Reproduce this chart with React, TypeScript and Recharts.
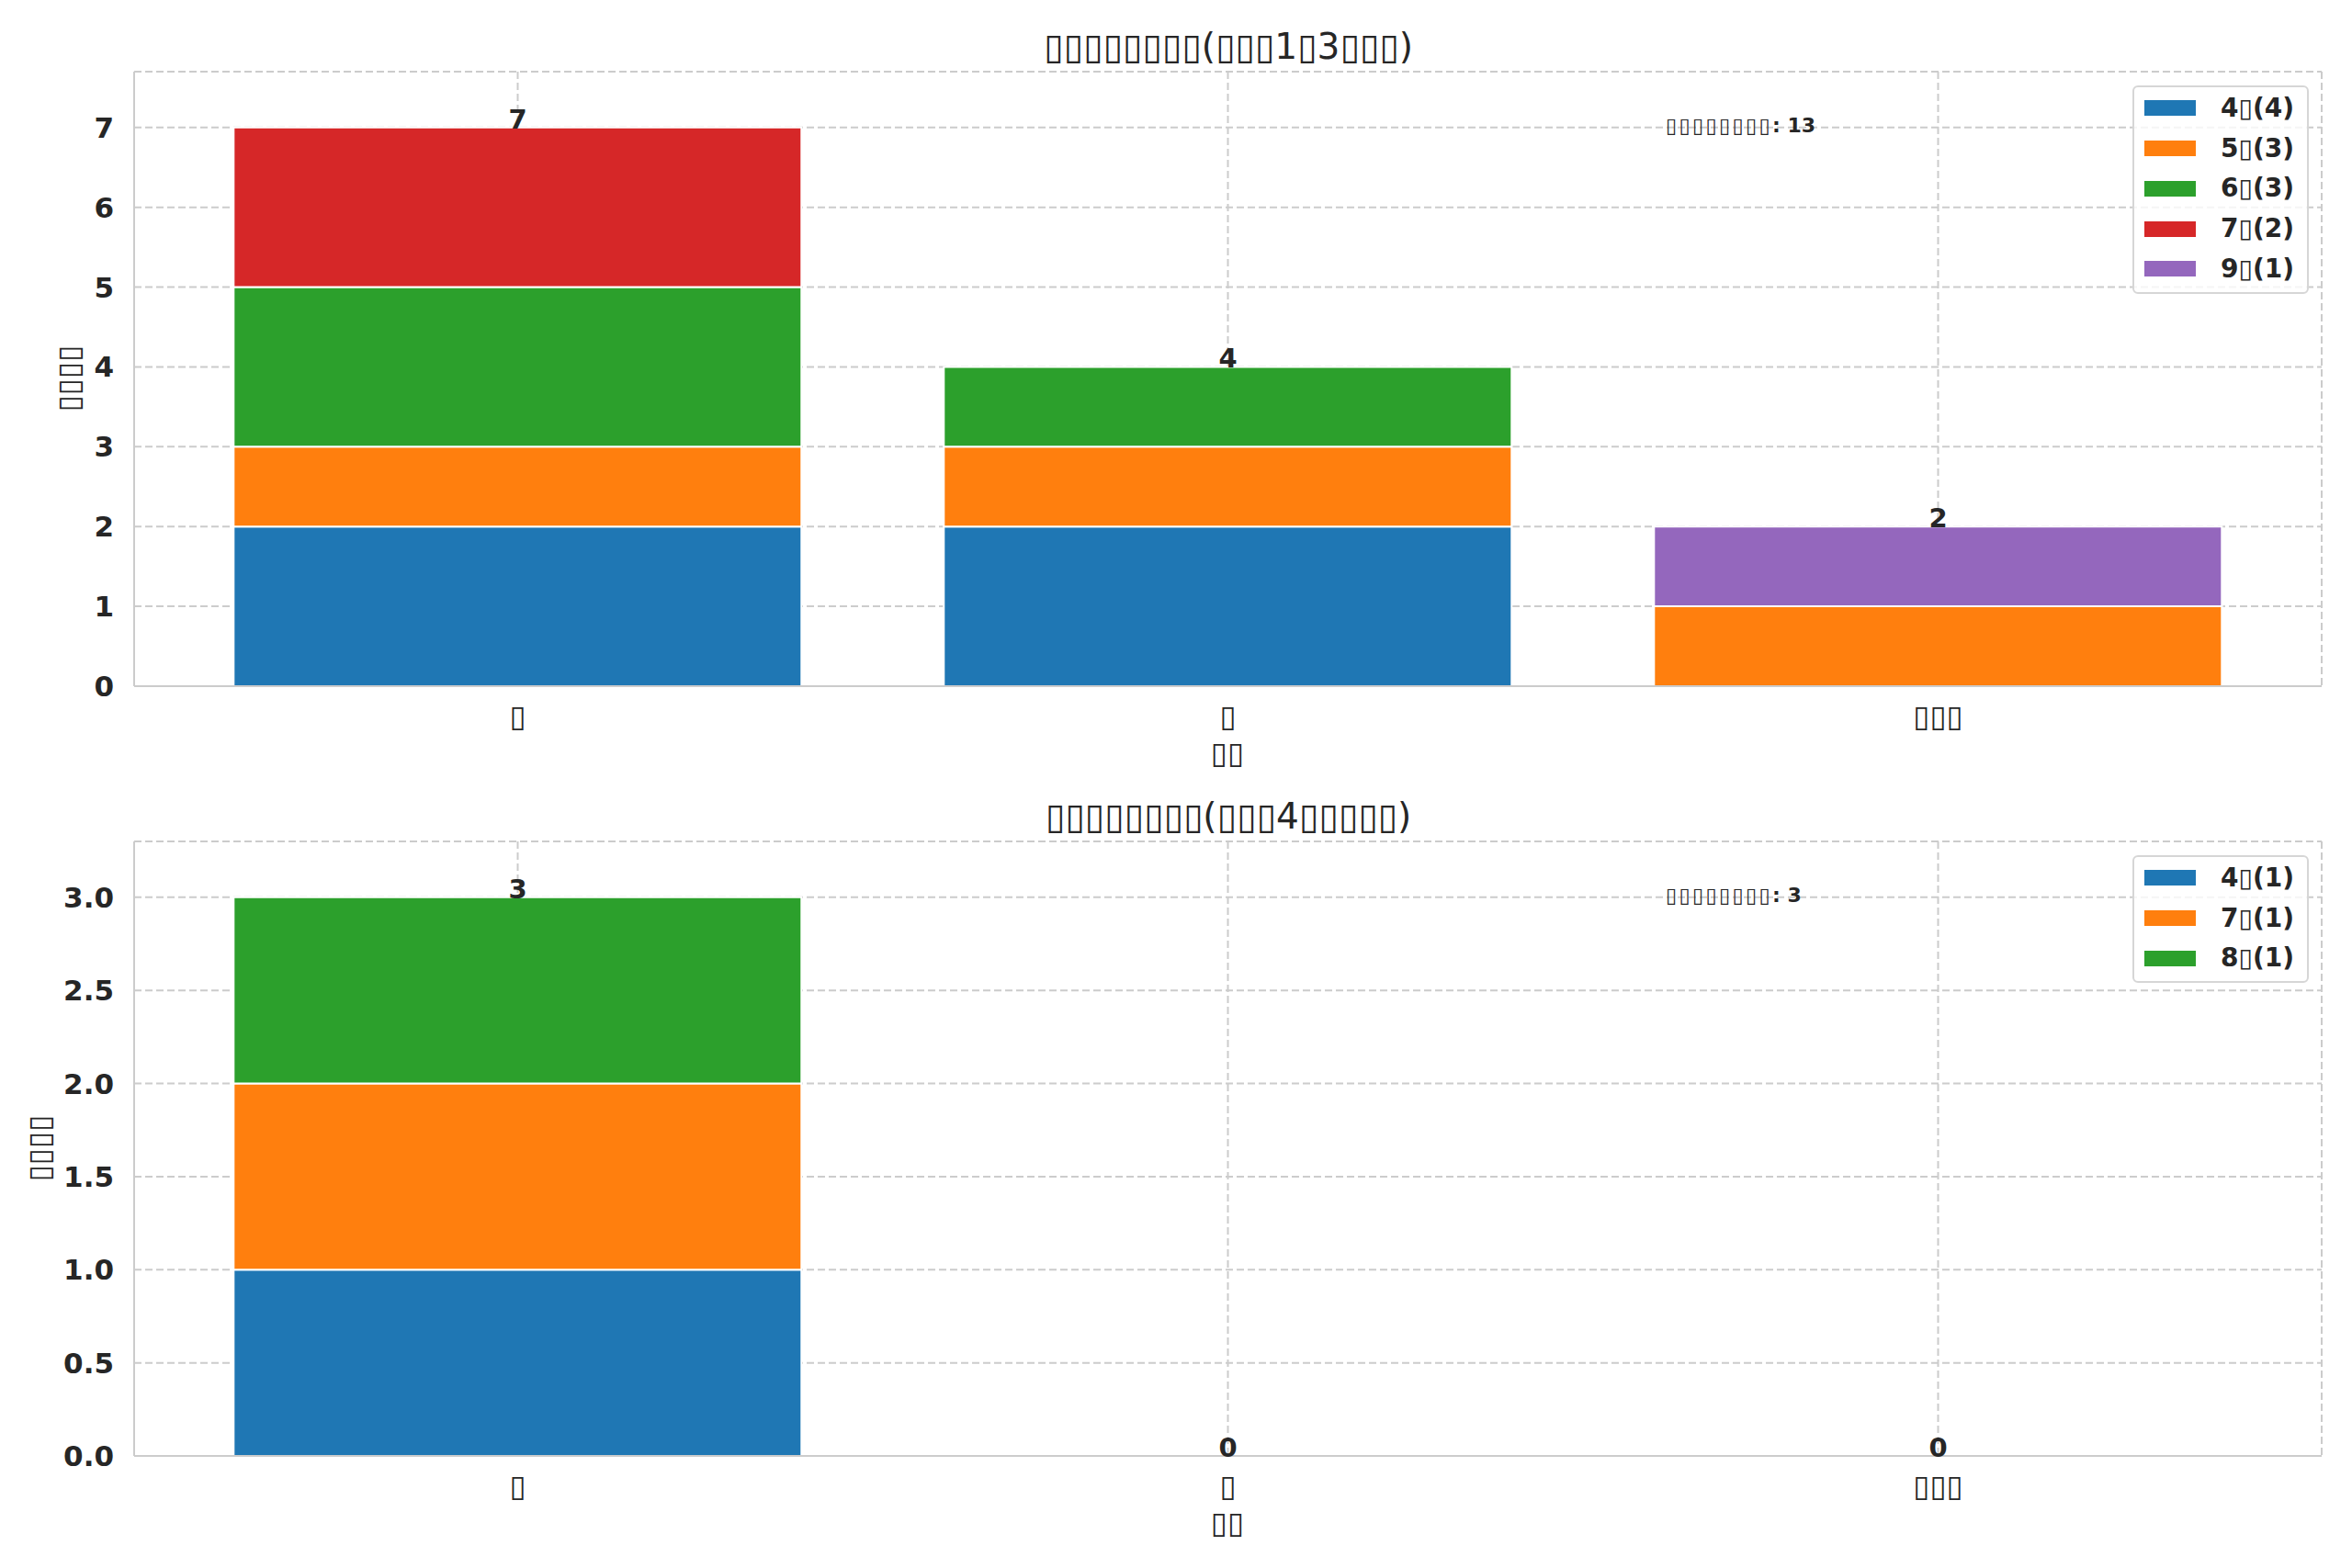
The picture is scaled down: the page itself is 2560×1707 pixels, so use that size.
import React from 'react';
import { ComposedChart, Bar, Line, XAxis, YAxis, CartesianGrid, Legend, LabelList } from 'recharts';

const FONT = '"DejaVu Sans", sans-serif';
const INK = '#262626';
const GRID = '#cccccc';

// the source text came out as tofu boxes, kept here as box glyphs
const B = '\u25AF';

const categories = [B, B, B + B + B];

// upper panel (groups 1-3)
const topLabels = ['4' + B + '(4)', '5' + B + '(3)', '6' + B + '(3)', '7' + B + '(2)', '9' + B + '(1)'];
const top4 = [2, 2, 0];
const top5 = [1, 1, 1];
const top6 = [2, 1, 0];
const top7 = [2, 0, 0];
const top9 = [0, 0, 1];
const topTicks = [0, 1, 2, 3, 4, 5, 6, 7];

// lower panel (group 4 and up)
const bottomLabels = ['4' + B + '(1)', '7' + B + '(1)', '8' + B + '(1)'];
const bottom4 = [1, 0, 0];
const bottom7 = [1, 0, 0];
const bottom8 = [1, 0, 0];
const bottomTicks = [0, 0.5, 1, 1.5, 2, 2.5, 3];

const topColors = ['#1f77b4', '#ff7f0e', '#2ca02c', '#d62728', '#9467bd'];
const bottomColors = ['#1f77b4', '#ff7f0e', '#2ca02c'];

const topTitle = B.repeat(8) + '(' + B.repeat(3) + '1' + B + '3' + B.repeat(3) + ')';
const bottomTitle = B.repeat(8) + '(' + B.repeat(3) + '4' + B.repeat(5) + ')';
const yTitle = B.repeat(4);
const xTitle = B.repeat(2);
const noteBoxes = B.repeat(8);

const sumAll = (arrs: number[][]) => arrs.reduce((s, a) => s + a.reduce((t, v) => t + v, 0), 0);

const CatTick = (props: any) => {
  const { x, y, payload } = props;
  return (
    <text x={x} y={y + 42} textAnchor="middle" fontSize={33} fill={INK} fontFamily={FONT}>
      {payload.value}
    </text>
  );
};

const renderTotal = (p: any) => {
  const vb = p.viewBox && p.viewBox.x !== undefined ? p.viewBox : p;
  const w = vb.width || 0;
  return (
    <text
      x={vb.x + w / 2}
      y={vb.y + 1}
      textAnchor="middle"
      fontSize={29}
      fontWeight="bold"
      fill={INK}
      fontFamily={FONT}
    >
      {p.value}
    </text>
  );
};

const LegendBox = ({ labels, colors }: { labels: string[]; colors: string[] }) => (
  <div
    style={{
      boxSizing: 'border-box',
      width: 192,
      border: '2px solid #d6d6d6',
      borderRadius: 6,
      background: 'rgba(255,255,255,0.8)',
      paddingTop: 1,
      paddingBottom: 3,
      fontFamily: FONT,
    }}
  >
    {labels.map((label, i) => (
      <div key={label} style={{ height: 43.75, display: 'flex', alignItems: 'center' }}>
        <div style={{ marginLeft: 11, width: 56, height: 17, background: colors[i] }} />
        <div
          style={{
            marginLeft: 27,
            fontSize: 28,
            fontWeight: 'bold',
            color: INK,
            whiteSpace: 'nowrap',
            lineHeight: '28px',
          }}
        >
          {label}
        </div>
      </div>
    ))}
  </div>
);

interface PanelProps {
  series: number[][];
  labels: string[];
  colors: string[];
  ticks: number[];
  yMax: number;
  decimals: number;
  height: number;
  marginTop: number;
  marginBottom: number;
  legendTop: number;
}

const StackedPanel = ({ series, labels, colors, ticks, yMax, decimals, height, marginTop, marginBottom, legendTop }: PanelProps) => {
  const data = categories.map((name, i) => {
    const row: any = { name, total: 0 };
    series.forEach((vals, k) => {
      row['s' + k] = vals[i];
      row.total += vals[i];
    });
    return row;
  });

  return (
    <ComposedChart
      width={2560}
      height={height}
      data={data}
      margin={{ top: marginTop, right: 33, bottom: marginBottom, left: 86 }}
      barCategoryGap="10%"
    >
      <CartesianGrid stroke={GRID} strokeDasharray="8 4" strokeWidth={2} />
      <XAxis
        dataKey="name"
        height={60}
        padding={{ left: 31, right: 31 }}
        interval={0}
        tickLine={false}
        tickSize={0}
        tick={<CatTick />}
        axisLine={{ stroke: GRID, strokeWidth: 2 }}
      />
      <XAxis
        xAxisId="top"
        orientation="top"
        dataKey="name"
        height={0}
        tick={false}
        tickLine={false}
        axisLine={{ stroke: GRID, strokeWidth: 2 }}
      />
      <YAxis
        type="number"
        domain={[0, yMax]}
        ticks={ticks}
        width={60}
        interval={0}
        tickLine={false}
        tickSize={0}
        tickMargin={22}
        tickFormatter={(v: number) => v.toFixed(decimals)}
        tick={{ fill: INK, fontSize: 31, fontWeight: 'bold', fontFamily: FONT }}
        axisLine={{ stroke: GRID, strokeWidth: 2 }}
      />
      <YAxis
        yAxisId="right"
        orientation="right"
        type="number"
        domain={[0, yMax]}
        width={0}
        tick={false}
        tickLine={false}
        axisLine={{ stroke: GRID, strokeWidth: 2 }}
      />
      <Legend
        layout="vertical"
        align="center"
        verticalAlign="middle"
        wrapperStyle={{ left: 2321, top: legendTop, width: 192, height: 'auto' }}
        content={() => <LegendBox labels={labels} colors={colors} />}
      />
      {series.map((_, k) => (
        <Bar
          key={k}
          dataKey={'s' + k}
          name={labels[k]}
          stackId="a"
          fill={colors[k]}
          stroke="#ffffff"
          strokeWidth={2}
          isAnimationActive={false}
        />
      ))}
      <Line
        dataKey="total"
        stroke="none"
        dot={false}
        activeDot={false}
        legendType="none"
        isAnimationActive={false}
      >
        <LabelList dataKey="total" content={renderTotal} />
      </Line>
    </ComposedChart>
  );
};

const App = () => (
  <div
    style={{
      position: 'absolute',
      left: 0,
      top: 0,
      width: 2560,
      height: 1707,
      background: '#ffffff',
      fontFamily: FONT,
    }}
  >
    <div style={{ position: 'absolute', left: 0, top: 0 }}>
      <StackedPanel
        series={[top4, top5, top6, top7, top9]}
        labels={topLabels}
        colors={topColors}
        ticks={topTicks}
        yMax={7.7}
        decimals={0}
        height={853}
        marginTop={78}
        marginBottom={46}
        legendTop={93}
      />
    </div>
    <div style={{ position: 'absolute', left: 0, top: 853 }}>
      <StackedPanel
        series={[bottom4, bottom7, bottom8]}
        labels={bottomLabels}
        colors={bottomColors}
        ticks={bottomTicks}
        yMax={3.3}
        decimals={1}
        height={854}
        marginTop={63}
        marginBottom={62}
        legendTop={78}
      />
    </div>
    <svg
      width={2560}
      height={1707}
      style={{ position: 'absolute', left: 0, top: 0, pointerEvents: 'none' }}
      fontFamily={FONT}
      fill={INK}
    >
      <text x={1337} y={64} textAnchor="middle" fontSize={39}>{topTitle}</text>
      <text x={1337} y={902} textAnchor="middle" fontSize={39}>{bottomTitle}</text>

      <text x={86} y={412} textAnchor="middle" fontSize={33} transform="rotate(-90 86 412)">{yTitle}</text>
      <text x={54} y={1250} textAnchor="middle" fontSize={33} transform="rotate(-90 54 1250)">{yTitle}</text>

      <text x={1336} y={831} textAnchor="middle" fontSize={33}>{xTitle}</text>
      <text x={1336} y={1669} textAnchor="middle" fontSize={33}>{xTitle}</text>

      <text x={1813} y={144} fontSize={22} fontWeight="bold">
        <tspan letterSpacing={2.4}>{noteBoxes}</tspan>
        <tspan>{': ' + sumAll([top4, top5, top6, top7, top9])}</tspan>
      </text>
      <text x={1813} y={982} fontSize={22} fontWeight="bold">
        <tspan letterSpacing={2.4}>{noteBoxes}</tspan>
        <tspan>{': ' + sumAll([bottom4, bottom7, bottom8])}</tspan>
      </text>
    </svg>
  </div>
);

export default App;
